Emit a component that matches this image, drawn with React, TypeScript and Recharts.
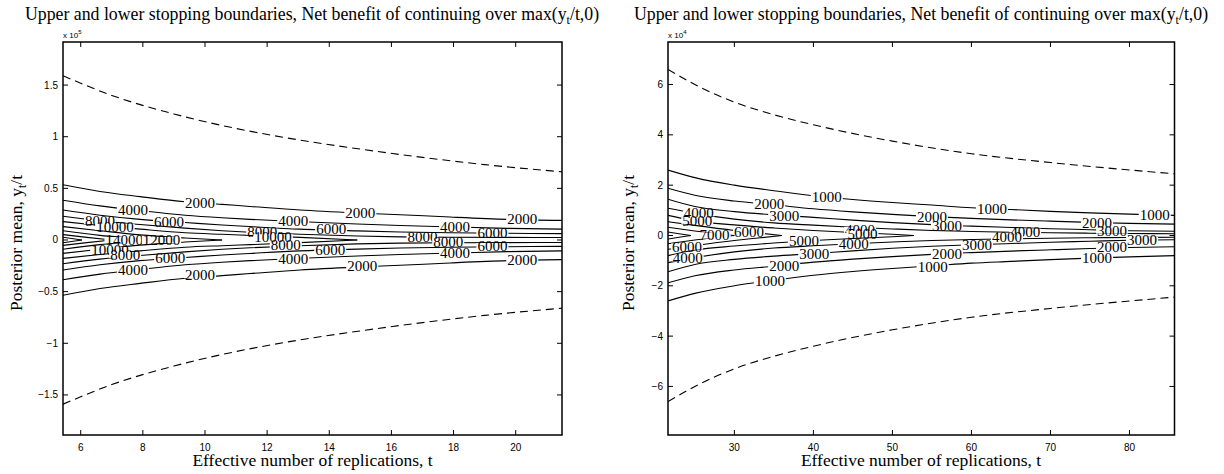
import React from "react";
import { ComposedChart, Line, Scatter, XAxis, YAxis, ReferenceArea } from "recharts";

const SERIF = "'Liberation Serif', 'Times New Roman', serif";
const SANS = "'Liberation Sans', Arial, sans-serif";

// --- left panel (values in units of 1e5) ---
const leftT = [5.43, 6.62, 7.91, 9.36, 10.55, 11.45, 13.06, 14.9, 16.28, 17.89, 19.73, 21.49];
const leftLevels = [
  { level: 2000, t: leftT, y: [0.535, 0.47, 0.42, 0.37, 0.345, 0.325, 0.29, 0.262, 0.245, 0.222, 0.2, 0.19] },
  { level: 4000, t: leftT, y: [0.385, 0.33, 0.285, 0.24, 0.215, 0.2, 0.178, 0.155, 0.14, 0.127, 0.113, 0.105] },
  { level: 6000, t: leftT, y: [0.29, 0.24, 0.2, 0.17, 0.145, 0.13, 0.105, 0.088, 0.078, 0.07, 0.065, 0.062] },
  { level: 8000, t: leftT, y: [0.23, 0.185, 0.15, 0.115, 0.09, 0.075, 0.055, 0.038, 0.03, 0.027, 0.025, 0.024] },
  { level: 10000, t: [5.43, 6.62, 7.91, 9.36, 10.55, 11.45, 13.06, 14.9], y: [0.178, 0.14, 0.105, 0.07, 0.055, 0.045, 0.025, 0] },
  { level: 12000, t: [5.43, 6.62, 7.91, 9.36, 10.55], y: [0.13, 0.09, 0.05, 0.02, 0] },
  { level: 14000, t: [5.43, 6.62, 7.91, 8.3], y: [0.09, 0.045, 0.012, 0] },
  { level: 16000, t: [5.43, 6.2, 7.0], y: [0.052, 0.025, 0] },
  { level: 18000, t: [5.43, 6.04], y: [0.026, 0] },
];
const leftBoundT = [5.43, 7, 9, 11, 13, 15, 17, 19, 21.49];
const leftBoundY = [1.59, 1.4, 1.22, 1.08, 0.97, 0.88, 0.8, 0.73, 0.66];
const leftLabels = [
  { t: 9.84, y: 0.36, text: "2000" },
  { t: 15.0, y: 0.265, text: "2000" },
  { t: 20.21, y: 0.2, text: "2000" },
  { t: 7.68, y: 0.29, text: "4000" },
  { t: 12.84, y: 0.184, text: "4000" },
  { t: 18.05, y: 0.129, text: "4000" },
  { t: 8.84, y: 0.177, text: "6000" },
  { t: 14.06, y: 0.106, text: "6000" },
  { t: 19.25, y: 0.065, text: "6000" },
  { t: 6.62, y: 0.184, text: "8000" },
  { t: 11.84, y: 0.08, text: "8000" },
  { t: 17.0, y: 0.026, text: "8000" },
  { t: 7.1, y: 0.129, text: "10000" },
  { t: 12.19, y: 0.026, text: "10000" },
  { t: 7.4, y: 0.0, text: "14000" },
  { t: 8.6, y: 0.0, text: "12000" },
  { t: 6.94, y: -0.097, text: "10000" },
  { t: 7.43, y: -0.145, text: "8000" },
  { t: 8.88, y: -0.174, text: "6000" },
  { t: 7.68, y: -0.29, text: "4000" },
  { t: 9.84, y: -0.34, text: "2000" },
  { t: 12.6, y: -0.048, text: "8000" },
  { t: 14.03, y: -0.097, text: "6000" },
  { t: 12.84, y: -0.184, text: "4000" },
  { t: 15.06, y: -0.255, text: "2000" },
  { t: 17.83, y: -0.016, text: "8000" },
  { t: 19.25, y: -0.06, text: "6000" },
  { t: 18.05, y: -0.123, text: "4000" },
  { t: 20.21, y: -0.19, text: "2000" },
];
const leftXTicks = [6, 8, 10, 12, 14, 16, 18, 20];
const leftYTicks = [-1.5, -1, -0.5, 0, 0.5, 1, 1.5];

// --- right panel (values in units of 1e4) ---
const rightT = [21.6, 25, 30, 35, 40, 45, 50, 55, 60, 65, 70, 75, 80, 85.7];
const rightLevels = [
  { level: 1000, t: rightT, y: [2.6, 2.3, 2.0, 1.78, 1.58, 1.43, 1.31, 1.21, 1.1, 1.03, 0.96, 0.9, 0.85, 0.8] },
  { level: 2000, t: rightT, y: [1.88, 1.6, 1.37, 1.22, 1.06, 0.94, 0.84, 0.75, 0.68, 0.62, 0.57, 0.52, 0.48, 0.45] },
  { level: 3000, t: rightT, y: [1.44, 1.15, 0.95, 0.82, 0.72, 0.61, 0.51, 0.43, 0.37, 0.32, 0.27, 0.23, 0.19, 0.17] },
  { level: 4000, t: rightT, y: [1.08, 0.88, 0.65, 0.5, 0.41, 0.33, 0.26, 0.2, 0.16, 0.13, 0.11, 0.09, 0.08, 0.07] },
  { level: 5000, t: [21.6, 25, 30, 35, 40, 45, 50, 52.7], y: [0.8, 0.58, 0.42, 0.3, 0.2, 0.12, 0.05, 0] },
  { level: 6000, t: [21.6, 25, 30, 33, 36], y: [0.55, 0.4, 0.2, 0.1, 0] },
  { level: 7000, t: [21.6, 25, 28, 30], y: [0.33, 0.18, 0.06, 0] },
  { level: 8000, t: [21.6, 23, 24.5], y: [0.14, 0.07, 0] },
];
const rightBoundT = [21.6, 25, 30, 35, 40, 50, 60, 70, 85.7];
const rightBoundY = [6.6, 6.0, 5.3, 4.8, 4.4, 3.75, 3.25, 2.9, 2.45];
const rightLabels = [
  { t: 25.5, y: 0.88, text: "4000" },
  { t: 25.3, y: 0.58, text: "5000" },
  { t: 27.5, y: 0.0, text: "7000" },
  { t: 31.85, y: 0.15, text: "6000" },
  { t: 34.4, y: 1.24, text: "2000" },
  { t: 36.3, y: 0.79, text: "3000" },
  { t: 41.7, y: 1.52, text: "1000" },
  { t: 45.9, y: 0.22, text: "4000" },
  { t: 46.2, y: 0.06, text: "5000" },
  { t: 62.6, y: 1.05, text: "1000" },
  { t: 55.0, y: 0.75, text: "2000" },
  { t: 56.9, y: 0.38, text: "3000" },
  { t: 66.8, y: 0.15, text: "4000" },
  { t: 83.2, y: 0.815, text: "1000" },
  { t: 75.9, y: 0.51, text: "2000" },
  { t: 77.8, y: 0.19, text: "3000" },
  { t: 24.0, y: -0.44, text: "6000" },
  { t: 24.1, y: -0.91, text: "4000" },
  { t: 34.5, y: -1.81, text: "1000" },
  { t: 36.3, y: -1.2, text: "2000" },
  { t: 40.1, y: -0.74, text: "3000" },
  { t: 38.8, y: -0.2, text: "5000" },
  { t: 45.1, y: -0.35, text: "4000" },
  { t: 64.5, y: -0.07, text: "4000" },
  { t: 60.7, y: -0.38, text: "3000" },
  { t: 56.9, y: -0.74, text: "2000" },
  { t: 55.1, y: -1.24, text: "1000" },
  { t: 75.9, y: -0.91, text: "1000" },
  { t: 77.8, y: -0.47, text: "2000" },
  { t: 81.6, y: -0.18, text: "3000" },
];
const rightXTicks = [30, 40, 50, 60, 70, 80];
const rightYTicks = [-6, -4, -2, 0, 2, 4, 6];

const PLOT_TOP = 42;
const PLOT_BOTTOM = 435;
const HEIGHT = 474;

const fmt = (v: number) => (v < 0 ? "\u2212" + String(-v) : String(v));

function LabelShape(props: any) {
  const { cx, cy, payload } = props;
  const w = payload.text.length * 7.5 + 2;
  return (
    <g>
      <rect x={cx - w / 2} y={cy - 3} width={w} height={6} fill="#fff" />
      <text x={cx} y={cy + 5} textAnchor="middle" fontFamily={SERIF} fontSize={15} fill="#000">
        {payload.text}
      </text>
    </g>
  );
}

interface PanelProps {
  width: number;
  left: number;
  right: number;
  xDomain: [number, number];
  yDomain: [number, number];
  xTicks: number[];
  yTicks: number[];
  levels: { level: number; t: number[]; y: number[] }[];
  boundT: number[];
  boundY: number[];
  labels: { t: number; y: number; text: string }[];
}

function ContourPanel({ width, left, right, xDomain, yDomain, xTicks, yTicks, levels, boundT, boundY, labels }: PanelProps) {
  const ph = PLOT_BOTTOM - PLOT_TOP;
  const pw = width - left - right;

  const xTick = (p: any) => (
    <g>
      <line x1={p.x} x2={p.x} y1={p.y} y2={p.y - 5} stroke="#000" />
      <line x1={p.x} x2={p.x} y1={p.y - ph} y2={p.y - ph + 5} stroke="#000" />
      <text x={p.x} y={p.y + 15.5} textAnchor="middle" fontFamily={SANS} fontSize={10} fill="#000">
        {fmt(p.payload.value)}
      </text>
    </g>
  );
  const yTick = (p: any) => (
    <g>
      <line x1={p.x} x2={p.x + 5} y1={p.y} y2={p.y} stroke="#000" />
      <line x1={p.x + pw} x2={p.x + pw - 5} y1={p.y} y2={p.y} stroke="#000" />
      <text x={p.x - 5} y={p.y + 3.5} textAnchor="end" fontFamily={SANS} fontSize={10} fill="#000">
        {fmt(p.payload.value)}
      </text>
    </g>
  );

  const upper = boundT.map((t, i) => ({ t, y: boundY[i] }));
  const lower = boundT.map((t, i) => ({ t, y: -boundY[i] }));

  return (
    <ComposedChart width={width} height={HEIGHT} margin={{ top: PLOT_TOP, right, bottom: 0, left: 0 }}>
      <XAxis
        type="number"
        dataKey="t"
        domain={xDomain}
        ticks={xTicks}
        interval={0}
        allowDataOverflow
        axisLine={false}
        tickLine={false}
        tickSize={0}
        tickMargin={0}
        height={HEIGHT - PLOT_BOTTOM}
        tick={xTick}
      />
      <YAxis
        type="number"
        dataKey="y"
        domain={yDomain}
        ticks={yTicks}
        interval={0}
        allowDataOverflow
        axisLine={false}
        tickLine={false}
        tickSize={0}
        tickMargin={0}
        width={left}
        tick={yTick}
      />
      {levels.map((lv) => (
        <Line
          key={"u" + lv.level}
          data={lv.t.map((t, i) => ({ t, y: lv.y[i] }))}
          dataKey="y"
          type="monotone"
          stroke="#000"
          strokeWidth={1.1}
          dot={false}
          activeDot={false}
          isAnimationActive={false}
        />
      ))}
      {levels.map((lv) => (
        <Line
          key={"l" + lv.level}
          data={lv.t.map((t, i) => ({ t, y: -lv.y[i] }))}
          dataKey="y"
          type="monotone"
          stroke="#000"
          strokeWidth={1.1}
          dot={false}
          activeDot={false}
          isAnimationActive={false}
        />
      ))}
      <Line data={upper} dataKey="y" type="monotone" stroke="#000" strokeWidth={1.1} strokeDasharray="8 5" dot={false} activeDot={false} isAnimationActive={false} />
      <Line data={lower} dataKey="y" type="monotone" stroke="#000" strokeWidth={1.1} strokeDasharray="8 5" dot={false} activeDot={false} isAnimationActive={false} />
      <ReferenceArea x1={xDomain[0]} x2={xDomain[1]} y1={yDomain[0]} y2={yDomain[1]} fill="none" stroke="#000" strokeWidth={1.5} />
      <Scatter data={labels} dataKey="y" shape={LabelShape} isAnimationActive={false} />
    </ComposedChart>
  );
}

function Title({ cx }: { cx: number }) {
  return (
    <text x={cx} y={20} textAnchor="middle" fontFamily={SERIF} fontSize={17.8} fill="#000">
      Upper and lower stopping boundaries, Net benefit of continuing over max(y
      <tspan dy={4} fontSize={12}>t</tspan>
      <tspan dy={-4}>/t,0)</tspan>
    </text>
  );
}

function YLabel({ x }: { x: number }) {
  return (
    <text x={x} y={243} textAnchor="middle" fontFamily={SERIF} fontSize={17.5} fill="#000" transform={`rotate(-90 ${x} 243)`}>
      Posterior mean, y<tspan dy={4} fontSize={12}>t</tspan>
      <tspan dy={-4}>/t</tspan>
    </text>
  );
}

function Exponent({ x, p }: { x: number; p: number }) {
  return (
    <text x={x} y={38} fontFamily={SANS} fontSize={8} fill="#000">
      x 10<tspan dy={-4} fontSize={6}>{p}</tspan>
    </text>
  );
}

export default function App() {
  return (
    <div style={{ position: "absolute", left: 0, top: 0, width: 1224, height: HEIGHT, background: "#fff" }}>
      <div style={{ position: "absolute", left: 0, top: 0 }}>
        <ContourPanel
          width={612}
          left={63}
          right={50}
          xDomain={[5.43, 21.49]}
          yDomain={[-1.888, 1.917]}
          xTicks={leftXTicks}
          yTicks={leftYTicks}
          levels={leftLevels}
          boundT={leftBoundT}
          boundY={leftBoundY}
          labels={leftLabels}
        />
      </div>
      <div style={{ position: "absolute", left: 612, top: 0 }}>
        <ContourPanel
          width={612}
          left={56}
          right={49.5}
          xDomain={[21.6, 85.7]}
          yDomain={[-7.93, 7.69]}
          xTicks={rightXTicks}
          yTicks={rightYTicks}
          levels={rightLevels}
          boundT={rightBoundT}
          boundY={rightBoundY}
          labels={rightLabels}
        />
      </div>
      <svg width={1224} height={HEIGHT} style={{ position: "absolute", left: 0, top: 0, pointerEvents: "none" }}>
        <Title cx={312} />
        <Title cx={921} />
        <Exponent x={63} p={5} />
        <Exponent x={668} p={4} />
        <YLabel x={22} />
        <YLabel x={634} />
        <text x={312.5} y={466} textAnchor="middle" fontFamily={SERIF} fontSize={17.5} fill="#000">
          Effective number of replications, t
        </text>
        <text x={921} y={466} textAnchor="middle" fontFamily={SERIF} fontSize={17.5} fill="#000">
          Effective number of replications, t
        </text>
      </svg>
    </div>
  );
}
